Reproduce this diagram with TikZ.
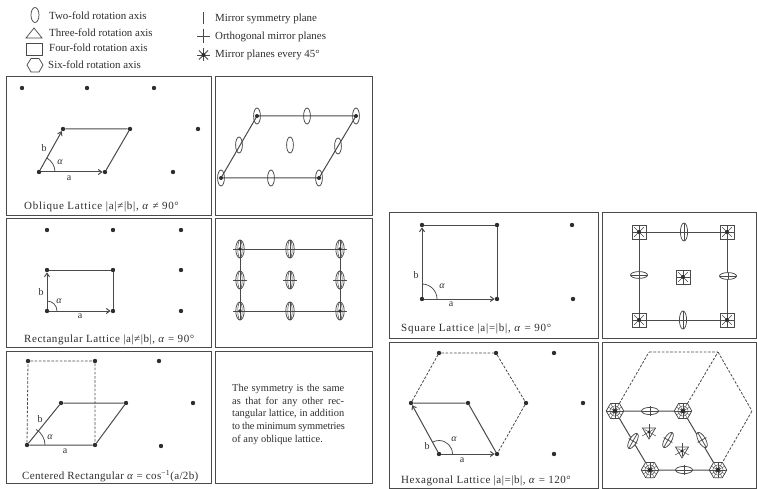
\documentclass[tikz,border=0pt]{standalone}
\usepackage{fontspec}
\setmainfont{Liberation Serif}
\usetikzlibrary{arrows.meta,shapes.geometric,calc}
\definecolor{ink}{HTML}{2E2E2E}
\definecolor{soft}{HTML}{4A4A4A}
\newcommand{\aval}{\textit{α}}
\tikzset{
  panel/.style={draw=soft,line width=1pt,fill=white},
  dot/.style={circle,fill=ink,inner sep=0pt,minimum size=4.4pt},
  anchorpt/.style={inner sep=0pt,minimum size=0pt},
  bond/.style={draw=soft,line width=1pt},
  vec/.style={draw=soft,line width=1pt,-{Straight Barb[length=3.5pt,width=5pt]}},
  dashline/.style={draw=soft,line width=0.8pt,dash pattern=on 2.6pt off 1.6pt},
  sym/.style={draw=soft,line width=0.75pt},
  legendtext/.style={anchor=west,inner sep=0pt,font=\fontsize{10.9}{12}\selectfont,text=ink},
  caption/.style={anchor=west,inner sep=0pt,text=ink},
  vlabel/.style={inner sep=0pt,font=\fontsize{10}{12}\selectfont,text=ink},
  pics/twofoldsym/.style={code={
    \draw[sym] (0,0) ellipse [x radius=3.4,y radius=8];
  }},
  pics/twofoldcross/.style={code={
    \draw[sym] (0,0) ellipse [x radius=4.2,y radius=9];
    \draw[sym,line width=0.5pt] (0,0) ellipse [x radius=2.2,y radius=9];
    \draw[sym,line width=0.5pt] (0,-9) -- (0,9);
    \draw[sym,line width=0.9pt] (-7,0) -- (7,0);
  }},
  pics/fourfoldsym/.style={code={
    \fill[white] (-7,-7) rectangle (7,7);
    \draw[sym] (-7,-7) rectangle (7,7);
    \foreach \t in {0,45,...,315}{\draw[sym,line width=0.4pt] (0,0) -- (\t:6.8);}
    \fill[ink] (0,0) circle (2);
  }},
  pics/sixfoldsym/.style={code={
    \draw[sym,fill=white] (8.8,0) -- (60:8.8) -- (120:8.8) -- (180:8.8) -- (240:8.8) -- (300:8.8) -- cycle;
    \foreach \t in {0,30,...,330}{\draw[sym,line width=0.4pt] (0,0) -- (\t:8);}
    \draw[sym,line width=0.4pt] (0,0) circle (5.2);
    \fill[ink] (0,0) circle (2.3);
  }},
  pics/threefoldsym/.style={code={
    \draw[sym] (-6.5,-4) -- (6.5,-4) -- (0,7) -- cycle;
    \foreach \t in {90,210,330}{\draw[sym,line width=0.5pt] (0,0) -- (\t+180:8);}
    \foreach \t in {30,150,270}{\draw[sym,line width=0.5pt] (0,0) -- (\t+180:5);}
    \fill[ink] (0,0) circle (1.6);
  }},
}
\newcommand{\capfont}[1]{\fontsize{11}{12}\selectfont\addfontfeatures{LetterSpace=#1}}
\newcommand{\noteline}[1]{\hbox to 112pt{\spaceskip=0.2em plus 1fil\relax #1}}
\begin{document}
\begin{tikzpicture}[x=1pt,y=-1pt]
\useasboundingbox (0,0) rectangle (757,489);
\fill[white] (0,0) rectangle (757,489);

% Legend
\coordinate (L2) at (35,15);
\draw[sym] (L2) ellipse [x radius=4,y radius=7.5];
\draw[sym] (26,38) -- (42,38) -- (34,28) -- cycle;
\draw[sym] (26,43) rectangle (42,55);
\draw[sym] (27,65) -- (31,58.5) -- (39,58.5) -- (43,65) -- (39,72) -- (31,72) -- cycle;
\node[legendtext] (t2) at (49,16) {Two-fold rotation axis};
\node[legendtext] (t3) at (49,33) {Three-fold rotation axis};
\node[legendtext] (t4) at (49,48) {Four-fold rotation axis};
\node[legendtext] (t6) at (48,65) {Six-fold rotation axis};
\draw[sym] (203.5,12) -- (203.5,24);
\draw[sym,line width=0.9pt] (203.5,29) -- (203.5,43) (197,36) -- (210,36);
\foreach \t in {0,45,...,315}{\draw[sym,line width=0.9pt] (203.5,55) -- ++(\t:6.5);}
\fill[ink] (203.5,55) circle (2);
\node[legendtext] (m1) at (215,19) {Mirror symmetry plane};
\node[legendtext] (m2) at (215,36.5) {Orthogonal mirror planes};
\node[legendtext] (m3) at (215,55) {Mirror planes every 45°};

% Panels
\draw[panel] (6,77) rectangle (211,215);
\draw[panel] (215,77) rectangle (372,215);
\draw[panel] (6,218) rectangle (211,347);
\draw[panel] (215,218) rectangle (372,347);
\draw[panel] (6,351) rectangle (211,483);
\draw[panel] (215,351) rectangle (372,483);
\draw[panel] (389,212) rectangle (598,338);
\draw[panel] (602,212) rectangle (756,338);
\draw[panel] (389,342) rectangle (598,488);
\draw[panel] (602,342) rectangle (756,488);

% --- Oblique lattice
\foreach \n/\x/\y in {oa/22/88,ob/87/88,oc/154/88,od/63/129,oe/130/129,of/198/129,og/39/172,oh/105/172,oi/173/172}
  \node[dot] (\n) at (\x,\y) {};
\draw[bond] (od) -- (oe) -- (oh);
\draw[vec] (og) -- (oh);
\draw[vec] (og) -- (od);
\draw[sym] (55,172) arc[start angle=0,end angle=-60,radius=16];
\node[vlabel] (oalpha) at (60,162) {\aval};
\node[vlabel] (ova) at (69,178) {a};
\node[vlabel] (ovb) at (44,148) {b};
\node[caption,font=\capfont{6.6}] (ocap) at (24,207) {Oblique Lattice |a|≠|b|, \aval\ ≠ 90°};

\foreach \n/\x/\y in {pa/221/178,pb/319/178,pc/356/116,pd/257/116}
  \node[anchorpt] (\n) at (\x,\y) {};
\draw[bond] (pa) -- (pb) -- (pc) -- (pd) -- (pa);
\foreach \n in {pa,pb,pc,pd}{\fill[ink] (\n) circle (2);}
\foreach \x/\y in {221/178,319/178,356/116,257/116,271/178,307/116,239/145,338/146,290/145}
  \pic at (\x,\y) {twofoldsym};

% --- Rectangular lattice
\foreach \n/\x/\y in {ra/47/230,rb/113/230,rc/181/230,rd/47/270,re/113/270,rf/181/270,rg/47/311,rh/113/311,ri/181/311}
  \node[dot] (\n) at (\x,\y) {};
\draw[bond] (rd) -- (re) -- (rh);
\draw[vec] (rg) -- (rh);
\draw[vec] (rg) -- (rd);
\draw[sym] (57,311) arc[start angle=0,end angle=-90,radius=10];
\node[vlabel] (ralpha) at (59,301) {\aval};
\node[vlabel] (rva) at (80,316) {a};
\node[vlabel] (rvb) at (41,292) {b};
\node[caption,font=\capfont{5}] (rcap) at (24,340) {Rectangular Lattice |a|≠|b|, \aval\ = 90°};

\foreach \n/\x/\y in {sa/240/249,sb/290/249,sc/340/249,sd/240/280,se/290/280,sf/340/280,sg/240/311,sh/290/311,si/340/311}
  \node[anchorpt] (\n) at (\x,\y) {};
\draw[bond] (sa) -- (sc) -- (si) -- (sg) -- (sa);
\foreach \n in {sa,sb,sc,sd,se,sf,sg,sh,si}{\pic at (\n) {twofoldcross};}
\foreach \n in {sa,sc,sg,si}{\fill[ink] (\n) circle (1.8);}

% --- Centered rectangular
\foreach \n/\x/\y in {ca/28/361,cb/95/361,cc/159/361,cd/61/403,ce/126/403,cf/193/403,cg/27/445,ch/95/445,ci/161/446}
  \node[dot] (\n) at (\x,\y) {};
\draw[bond] (cg) -- (ch) -- (ce) -- (cd) -- (cg);
\draw[dashline] (cg) -- (ca) -- (cb) -- (ch);
\draw[sym] (45,445) arc[start angle=0,end angle=-60,radius=18];
\node[vlabel] (calpha) at (50,437) {\aval};
\node[vlabel] (cva) at (65,451) {a};
\node[vlabel] (cvb) at (40,419) {b};
\node[caption,font=\capfont{3.2}] (ccap) at (22,476) {Centered Rectangular \aval\ = cos\textsuperscript{−1}(a/2b)};

\node[inner sep=0pt,anchor=north west,align=left,font=\fontsize{10.4}{12.7}\selectfont,text=ink] (note) at (232,384)
  {\noteline{The symmetry is the same}\\
   \noteline{as that for any other rec-}\\
   \noteline{tangular lattice, in addition}\\
   \noteline{\addfontfeatures{LetterSpace=-1.5}to the minimum symmetries}\\
   of any oblique lattice.};

% --- Square lattice
\foreach \n/\x/\y in {qa/422/225,qb/497/225,qc/572/225,qd/422/299,qe/497/299,qf/573/299}
  \node[dot] (\n) at (\x,\y) {};
\draw[bond] (qa) -- (qb) -- (qe);
\draw[vec] (qd) -- (qe);
\draw[vec] (qd) -- (qa);
\draw[sym] (437,299) arc[start angle=0,end angle=-90,radius=15];
\node[vlabel] (qalpha) at (442,286) {\aval};
\node[vlabel] (qva) at (451,304) {a};
\node[vlabel] (qvb) at (416,275) {b};
\node[caption,font=\capfont{6.8}] (qcap) at (401,329) {Square Lattice |a|=|b|, \aval\ = 90°};

\foreach \n/\x/\y in {ua/639/232,ub/727/232,uc/639/320,ud/727/320,ue/683/277,uf/684/232,ug/683/320,uh/639/275,ui/728/276}
  \node[anchorpt] (\n) at (\x,\y) {};
\draw[bond] (ua) -- (ub) -- (ud) -- (uc) -- (ua);
\foreach \n in {ua,ub,uc,ud,ue}{\pic at (\n) {fourfoldsym};}
\foreach \n in {uf,ug}{
  \draw[sym,fill=white] (\n) ellipse [x radius=3.6,y radius=9];
  \draw[sym] ($(\n)+(0,-9)$) -- ($(\n)+(0,9)$);
  \draw[sym] ($(\n)+(-3.6,0)$) -- ($(\n)+(3.6,0)$);
}
\foreach \n in {uh,ui}{
  \draw[sym,fill=white] (\n) ellipse [x radius=8.5,y radius=3.4];
  \draw[sym] ($(\n)+(-8.5,0)$) -- ($(\n)+(8.5,0)$);
  \draw[sym] ($(\n)+(0,-3.4)$) -- ($(\n)+(0,3.4)$);
}

% --- Hexagonal lattice
\foreach \n/\x/\y in {ha/439/353,hb/496/353,hc/554/353,hd/411/403,he/468/403,hf/526/403,hg/583/403,hh/439/454,hi/497/454,hj/554/454}
  \node[dot] (\n) at (\x,\y) {};
\draw[dashline] (hd) -- (ha) -- (hb) -- (hf) -- (hi);
\draw[bond] (hd) -- (he) -- (hi);
\draw[vec] (hh) -- (hi);
\draw[vec] (hh) -- (hd);
\draw[sym] (452.5,454) arc[start angle=0,end angle=-120,radius=13.5];
\node[vlabel] (halpha) at (454,439) {\aval};
\node[vlabel] (hva) at (462,460) {a};
\node[vlabel] (hvb) at (427,446) {b};
\node[caption,font=\capfont{5}] (hcap) at (401,481) {Hexagonal Lattice |a|=|b|, \aval\ = 120°};

\foreach \n/\x/\y in {va/615/411,vb/649/352,vc/718/352,vd/752/411,ve/718/470,vf/650/470,vg/683/411}
  \node[anchorpt] (\n) at (\x,\y) {};
\draw[dashline] (va) -- (vb) -- (vc) -- (vd) -- (ve);
\draw[dashline] (vg) -- (vc);
\draw[bond] (va) -- (vg) -- (ve) -- (vf) -- (va);
\foreach \n in {va,vg,ve,vf}{\pic at (\n) {sixfoldsym};}
\foreach \x/\y/\r in {650/411/0,684/470/0,633/441/60,702/440/-60,668/440/60}{
  \begin{scope}[shift={(\x,\y)},rotate=\r]
    \draw[sym,fill=white] (0,0) ellipse [x radius=8.5,y radius=3.6];
    \draw[sym] (-8.5,0) -- (8.5,0);
    \draw[sym] (0,-5) -- (0,5);
  \end{scope}
}
\pic at (649,432) {threefoldsym};
\pic at (682,451) {threefoldsym};
\end{tikzpicture}
\end{document}
